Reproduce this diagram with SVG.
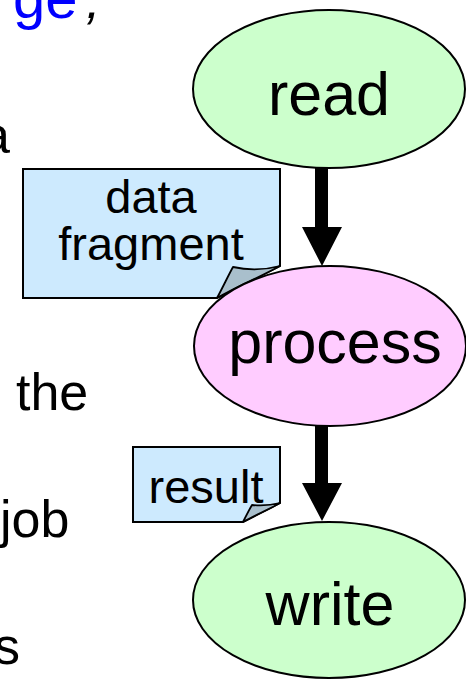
<svg xmlns="http://www.w3.org/2000/svg" width="466" height="679" viewBox="0 0 466 679">
  <style>
    text { font-family: "Liberation Sans", Arial, sans-serif; fill: #000; }
    .body { font-size: 52px; }
    .node { stroke: #000; stroke-width: 2; }
    .read, .write { fill: #ccffcc; }
    .process { fill: #ffccff; }
    .label { font-size: 61px; text-anchor: middle; }
    .note { fill: #cdeafe; stroke: #000; stroke-width: 2; stroke-linejoin: miter; }
    .flap { fill: #a9bfcc; stroke: #000; stroke-width: 1.8; stroke-linejoin: round; }
    .notetext { font-size: 47px; text-anchor: middle; }
    .shaft { fill: #000; }
  </style>

  <!-- slide body text cut off at the left edge -->
  <g id="slide-text">
    <text x="13" y="18" style="fill:#0000ff;font-size:58px">ge</text>
    <text class="body" x="86" y="18" style="font-style:italic">,</text>
    <text class="body" x="-19" y="153">a</text>
    <text class="body" x="16" y="410">the</text>
    <text class="body" x="0" y="537">job</text>
    <text class="body" x="-6" y="664">s</text>
  </g>

  <!-- connectors -->
  <g id="connectors">
    <path class="shaft" d="M315,168 H328 V227 H342 L322,266 L302,227 H315 Z"/>
    <path class="shaft" d="M315,426 H328 V483 H342 L322,521 L302,483 H315 Z"/>
  </g>

  <!-- data fragment note -->
  <g id="note-data">
    <path class="note" d="M23,169 H280 V266 L217,298 H23 Z"/>
    <path class="flap" d="M217,298 C223,287 228,276 233,267 C250,271 265,270 280,266 C258,278 236,287 217,298 Z"/>
    <text class="notetext" x="151" y="213">data</text>
    <text class="notetext" x="151" y="260">fragment</text>
  </g>

  <!-- result note -->
  <g id="note-result">
    <path class="note" d="M133,447 H280 V503 L243,522 H133 Z"/>
    <path class="flap" d="M243,522 C246,516 249,510 252,505 C262,506 272,505 280,503 C268,510 255,515 243,522 Z"/>
    <text class="notetext" x="206" y="503">result</text>
  </g>

  <g id="read">
    <ellipse class="node read" cx="329" cy="89" rx="136" ry="79"/>
    <text class="label" x="329" y="115">read</text>
  </g>

  <g id="process">
    <ellipse class="node process" cx="330" cy="346" rx="136" ry="80"/>
    <text class="label" x="335" y="363">process</text>
  </g>

  <g id="write">
    <ellipse class="node write" cx="329" cy="600" rx="136" ry="78"/>
    <text class="label" x="330" y="625">write</text>
  </g>
</svg>
